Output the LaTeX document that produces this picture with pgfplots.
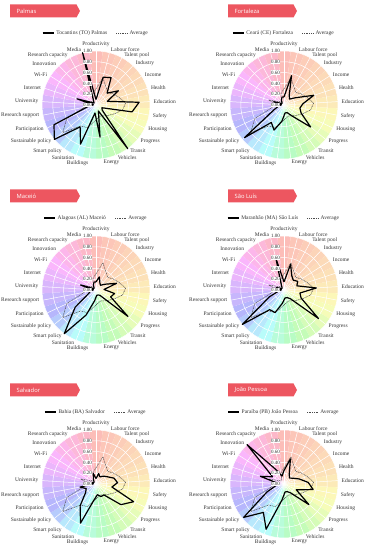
\documentclass[border=0pt]{standalone}
\usepackage{pgfplots}
\pgfplotsset{compat=1.18}
\usepackage{pgfplotstable}
\usepgfplotslibrary{polar}
\usepackage{fontspec}
\setmainfont{Liberation Serif}
\newfontfamily\tagsans{Open Sans}

\definecolor{tagred}{RGB}{237,86,96}
\definecolor{wc0}{Hsb}{4,0.27,0.99}
\definecolor{wc1}{Hsb}{12,0.27,0.99}
\definecolor{wc2}{Hsb}{18,0.27,0.99}
\definecolor{wc3}{Hsb}{24,0.27,0.99}
\definecolor{wc4}{Hsb}{30,0.27,0.99}
\definecolor{wc5}{Hsb}{36,0.27,0.99}
\definecolor{wc6}{Hsb}{44,0.27,0.99}
\definecolor{wc7}{Hsb}{55,0.27,0.99}
\definecolor{wc8}{Hsb}{66,0.27,0.99}
\definecolor{wc9}{Hsb}{80,0.27,0.99}
\definecolor{wc10}{Hsb}{95,0.27,0.99}
\definecolor{wc11}{Hsb}{110,0.27,0.99}
\definecolor{wc12}{Hsb}{130,0.27,0.99}
\definecolor{wc13}{Hsb}{150,0.27,0.99}
\definecolor{wc14}{Hsb}{178,0.27,0.99}
\definecolor{wc15}{Hsb}{198,0.27,0.99}
\definecolor{wc16}{Hsb}{222,0.28,0.99}
\definecolor{wc17}{Hsb}{240,0.28,0.99}
\definecolor{wc18}{Hsb}{255,0.28,0.99}
\definecolor{wc19}{Hsb}{270,0.28,0.99}
\definecolor{wc20}{Hsb}{285,0.28,0.99}
\definecolor{wc21}{Hsb}{298,0.28,0.99}
\definecolor{wc22}{Hsb}{315,0.28,0.99}
\definecolor{wc23}{Hsb}{330,0.27,0.99}
\definecolor{wc24}{Hsb}{345,0.27,0.99}

\newcommand{\lblfont}{\fontsize{5.5bp}{6.5bp}\selectfont}
\newcommand{\tickfont}{\fontsize{5bp}{6bp}\selectfont}
\newcommand{\tagfontsz}{\tagsans\fontsize{5.8bp}{7bp}\selectfont}

% angle (deg), average, and one column per capital
\pgfplotstableread{
angle  avg  pal  for  mac  slz  ssa  jpa
90     0.30 0.10 0.15 0.15 0.15 0.10 0.25
75.6   0.52 0.53 0.56 0.25 0.49 0.20 0.48
61.2   0.38 0.58 0.20 0.15 0.30 0.15 0.20
46.8   0.32 0.30 0.15 0.12 0.25 0.20 0.15
32.4   0.38 0.49 0.25 0.20 0.30 0.25 0.20
18     0.45 0.22 0.58 0.40 0.25 0.35 0.30
3.6    0.55 0.80 0.35 0.15 0.60 0.40 0.45
-10.8  0.50 0.68 0.30 0.35 0.30 0.30 0.55
-25.2  0.38 0.12 0.35 0.30 0.35 0.77 0.25
-39.6  0.30 0.15 0.64 0.77 0.83 0.60 0.60
-54    0.25 1.00 0.25 0.12 0.20 0.25 0.20
-68.4  0.22 0.12 0.15 0.10 0.15 0.25 0.15
-82.8  0.25 0.60 0.15 0.10 0.15 0.20 0.15
-97.2  0.32 0.15 0.30 0.20 0.25 0.30 0.30
-111.6 0.45 0.78 0.50 0.50 0.45 0.78 0.90
-126   0.48 0.50 0.40 1.00 0.45 0.50 0.65
-140.4 0.80 1.00 0.95 0.50 1.00 0.25 0.97
-154.8 0.60 0.86 0.20 0.15 0.30 0.20 0.35
-169.2 0.22 0.15 0.10 0.10 0.10 0.30 0.15
-183.6 0.12 0.05 0.05 0.05 0.05 0.05 0.10
-198   0.30 0.37 0.20 0.30 0.15 0.10 0.46
-212.4 0.12 0.08 0.05 0.05 0.05 0.05 0.25
-226.8 0.08 0.05 0.05 0.05 0.05 0.05 1.00
-241.2 0.10 0.10 0.10 0.10 0.10 0.10 0.30
-255.6 0.22 1.00 0.15 0.15 0.60 0.20 0.15
-270   0.30 0.10 0.15 0.15 0.15 0.10 0.25
}\radar

\pgfplotsset{
  radar/.style={anchor=center, x=54bp, y=54bp,
    xmin=-1, xmax=1, ymin=-1, ymax=1, hide axis, clip=false,
    legend columns=2, reverse legend,
    legend style={at={(0.5,1)}, anchor=center, yshift=18bp, draw=none, fill=none,
      font=\lblfont, text=black!80, inner sep=0pt,
      /tikz/every even column/.append style={column sep=7bp}},
    legend image code/.code={\draw[##1] (0bp,0bp) -- (11bp,0bp);}},
  avgline/.style={black!70, line width=0.5bp, dash pattern=on 1bp off 0.7bp, data cs=polar},
  cityline/.style={black, line width=1.2bp, line join=round, data cs=polar}
}

\newcommand{\radarbg}[2]{%
\begin{scope}[shift={(#1,#2)}]
\foreach \i in {0,...,24}{%
  \pgfmathsetmacro\aa{90-14.4*\i+7.2}%
  \pgfmathsetmacro\ab{90-14.4*\i-7.2}%
  \fill[wc\i] (0,0) -- (\aa:54bp) arc[start angle=\aa, end angle=\ab, radius=54bp] -- cycle;}
\foreach \r in {10.8,21.6,32.4,43.2,54}{\draw[white, line width=0.5bp] (0,0) circle[radius=\r bp];}
\foreach \i in {0,...,24}{\pgfmathsetmacro\aa{90-14.4*\i}\draw[white, line width=0.5bp] (0,0) -- (\aa:54bp);}
\end{scope}}

\newcommand{\radarlabels}[2]{%
\begin{scope}[shift={(#1,#2)}]
\foreach \n [count=\i from 0] in {Productivity,Labour force,Talent pool,Industry,Income,Health,Education,Safety,Housing,Progress,Transit,Vehicles,Energy,Buildings,Sanitation,Smart policy,Sustainable policy,Participation,Research support,University,Internet,Wi-Fi,Innovation,Research capacity,Media}{%
  \pgfmathsetmacro\aa{90-14.4*\i}%
  \pgfmathtruncatemacro\side{\i==0 ? 0 : (\i==12 ? 3 : (\i==13 ? 4 : (\i<13 ? 1 : 2)))}%
  \ifcase\side
    \node[anchor=south, inner sep=0.6bp, font=\lblfont, text=black!80] at (\aa:58bp) {\n};
  \or
    \node[anchor=west, inner sep=0.6bp, font=\lblfont, text=black!80] at (\aa:57bp) {\n};
  \or
    \node[anchor=east, inner sep=0.6bp, font=\lblfont, text=black!80] at (\aa:57bp) {\n};
  \or
    \node[anchor=north west, inner sep=0.6bp, font=\lblfont, text=black!80] at (\aa:55bp) {\n};
  \or
    \node[anchor=north east, inner sep=0.6bp, font=\lblfont, text=black!80] at (\aa:55bp) {\n};
  \fi}
\foreach \v [count=\k from 0] in {0.00,0.20,0.40,0.60,0.80,1.00}{%
  \node[anchor=east, fill=white, inner sep=0.5bp, font=\tickfont, text=black!80] at (-3.5,{10.8*\k}) {\v};}
\end{scope}}

\newcommand{\tagbox}[4]{%
  \fill[tagred] (#1,{#3+6.5}) -- ({#2-3.5},{#3+6.5}) -- (#2,{#3}) -- ({#2-3.5},{#3-6.5}) -- (#1,{#3-6.5}) -- cycle;
  \node[anchor=west, text=white, font=\tagfontsz, inner sep=0pt] at ({#1+6.5},{#3}) {#4};}

\newcommand{\panel}[7]{%
  \radarbg{#1}{#2}
  \begin{axis}[radar, at={(#1bp,#2bp)}]
    \addplot[avgline] table[x=angle, y=avg] {\radar};
    \addlegendentry{Average}
    \addplot[cityline] table[x=angle, y=#6] {\radar};
    \addlegendentry{#7}
  \end{axis}
  \radarlabels{#1}{#2}
  \tagbox{#3}{#4}{#2+94}{#5}}

\begin{document}
\begin{tikzpicture}[x=1bp, y=1bp]
\useasboundingbox (0,0) rectangle (369,550);
\panel{96}{445}{10}{80}{Palmas}{pal}{Tocantins (TO) Palmas}
\panel{284}{445}{228}{297}{Fortaleza}{for}{Ceará (CE) Fortaleza}
\panel{96}{260}{10}{80}{Maceió}{mac}{Alagoas (AL) Maceió}
\panel{284}{260}{228}{297}{São Luís}{slz}{Maranhão (MA) São Luís}
\panel{96}{66}{10}{80}{Salvador}{ssa}{Bahia (BA) Salvador}
\panel{284}{66}{228}{297}{João Pessoa}{jpa}{Paraíba (PB) João Pessoa}
\end{tikzpicture}
\end{document}
